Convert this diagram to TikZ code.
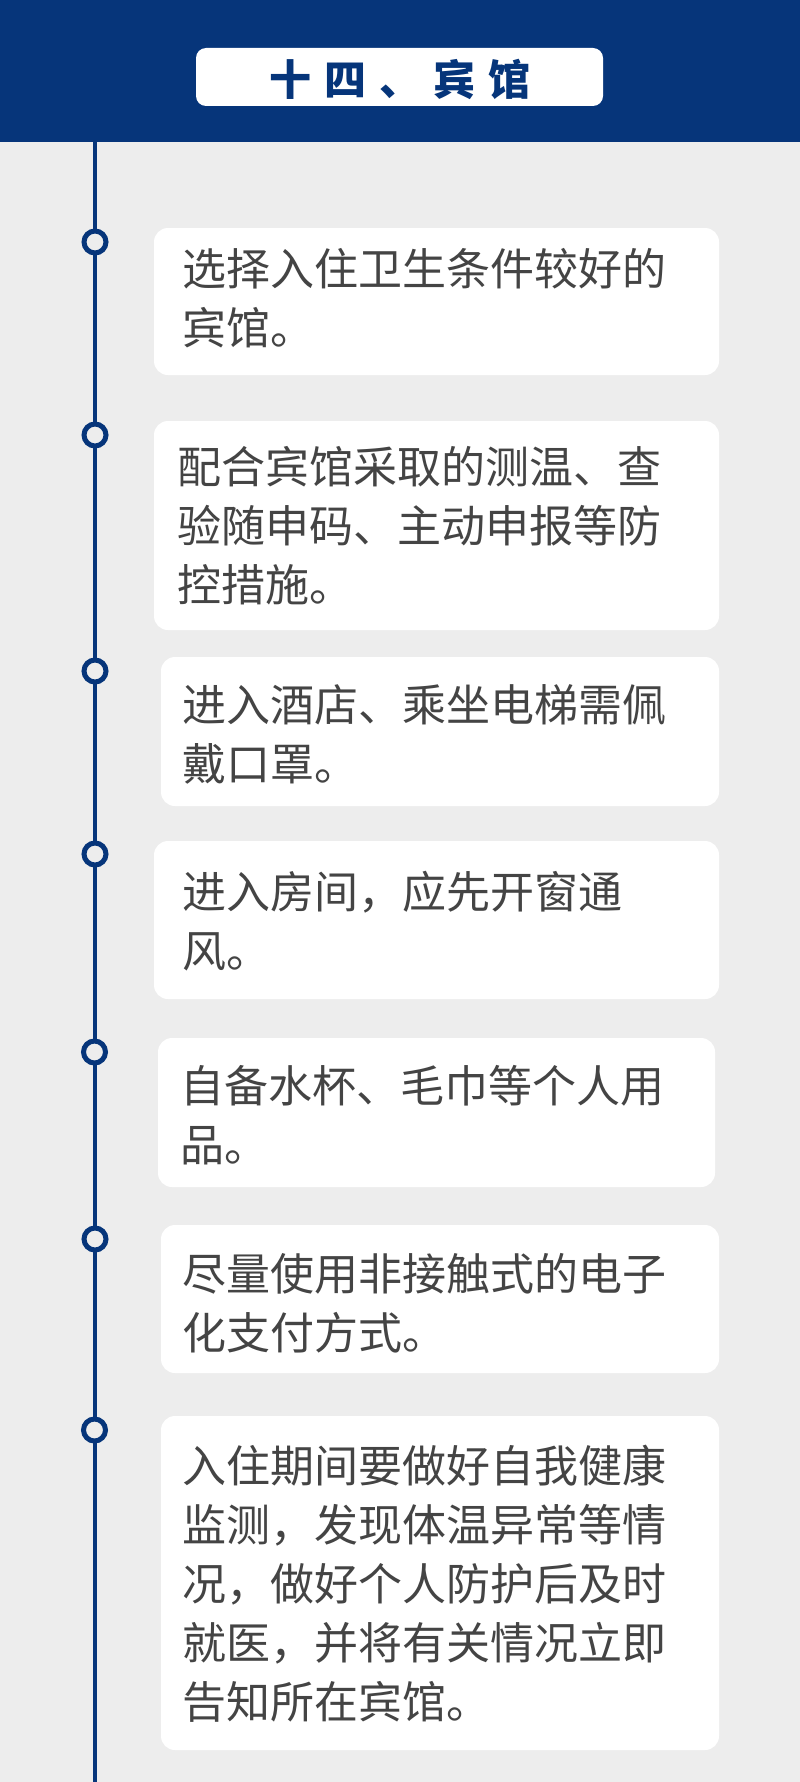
\documentclass[tikz,border=0pt]{standalone}
\usepackage{fontspec}
\newfontfamily\cjk{Noto Sans CJK SC}
\definecolor{navy}{HTML}{06357A}
\definecolor{bggray}{HTML}{EDEDED}
\definecolor{txtgray}{HTML}{444444}

\begin{document}
\begin{tikzpicture}[x=1pt, y=-1pt,
	card/.style={rectangle, rounded corners=14pt, fill=white, inner sep=0pt},
	dot/.style={draw=navy, circle, line width=5pt, fill=bggray, minimum size=22pt, inner sep=0pt},
	itemtext/.style={anchor=base west, inner sep=0pt, text width=530pt, align=left, text=txtgray, font=\cjk\fontsize{44}{59}\selectfont}]
				\useasboundingbox (0,0) rectangle (800,1782);
				\fill[bggray] (0,0) rectangle (800,1782);
				\fill[navy] (0,0) rectangle (800,142);
				\node[card, rounded corners=10pt, minimum width=407pt, minimum height=58pt] (TB)at(399.5, 77) {};
				\node[text=navy, inner sep=0pt, font=\cjk\bfseries\fontsize{42}{42}\selectfont] (TITLE)at(400, 79) {十\hspace{0.3em}四\hspace{0.3em}、\hspace{0.3em}宾\hspace{0.3em}馆};
				\coordinate (TOP)at(95, 142);
				\coordinate (BOT)at(95, 1782);
				\draw[navy, line width=4pt] (TOP) -- (BOT);
				% cards
				\node[card, minimum width=565pt, minimum height=147pt] (C1)at(436.5, 301.5) {};
				\node[card, minimum width=565pt, minimum height=209pt] (C2)at(436.5, 525.5) {};
				\node[card, minimum width=558pt, minimum height=149pt] (C3)at(440, 731.5) {};
				\node[card, minimum width=565pt, minimum height=158pt] (C4)at(436.5, 920) {};
				\node[card, minimum width=557pt, minimum height=149pt] (C5)at(436.5, 1112.5) {};
				\node[card, minimum width=558pt, minimum height=148pt] (C6)at(440, 1299) {};
				\node[card, minimum width=558pt, minimum height=334pt] (C7)at(440, 1583) {};
				% dots
				\node[dot] (D1)at(95, 242) {};
				\node[dot] (D2)at(95, 435) {};
				\node[dot] (D3)at(95, 671) {};
				\node[dot] (D4)at(95, 854) {};
				\node[dot] (D5)at(94.5, 1052) {};
				\node[dot] (D6)at(95, 1239) {};
				\node[dot] (D7)at(94.5, 1430) {};
				% texts
				\node[itemtext] (T1)at(182, 285) {选择入住卫生条件较好的\\宾馆。};
				\node[itemtext] (T2)at(177, 483) {配合宾馆采取的测温、查\\验随申码、主动申报等防\\控措施。};
				\node[itemtext] (T3)at(182, 721) {进入酒店、乘坐电梯需佩\\戴口罩。};
				\node[itemtext] (T4)at(182, 908) {进入房间，应先开窗通\\风。};
				\node[itemtext] (T5)at(180, 1102) {自备水杯、毛巾等个人用\\品。};
				\node[itemtext] (T6)at(182, 1290) {尽量使用非接触式的电子\\化支付方式。};
				\node[itemtext] (T7)at(182, 1482) {入住期间要做好自我健康\\监测，发现体温异常等情\\况，做好个人防护后及时\\就医，并将有关情况立即\\告知所在宾馆。};
			\end{tikzpicture}
\end{document}
